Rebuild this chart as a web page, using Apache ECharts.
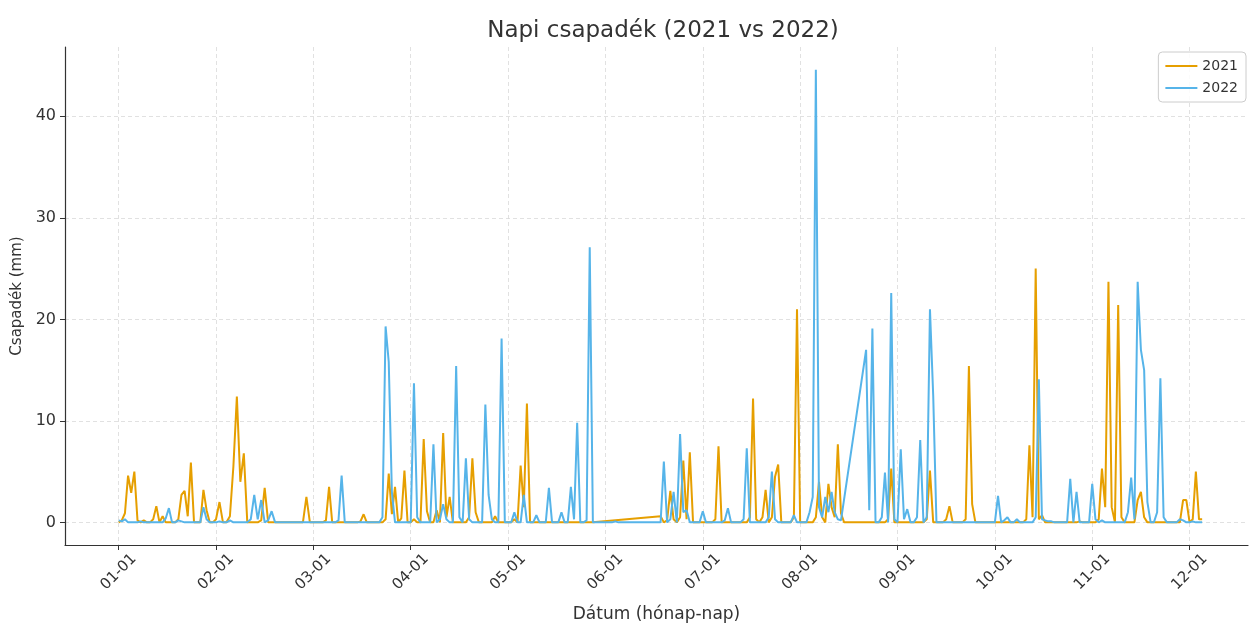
<!DOCTYPE html>
<html>
<head>
<meta charset="utf-8">
<title>Napi csapadék (2021 vs 2022)</title>
<script src="https://cdn.jsdelivr.net/npm/echarts@6/dist/echarts.min.js"></script>
<style>
  html, body { margin: 0; padding: 0; background: #fff; }
  #chart { width: 1250px; height: 626px; }
</style>
</head>
<body>
<div id="chart"></div>
<script>
// hónapok hossza (nem szökőév)
var monthDays = [31, 28, 31, 30, 31, 30, 31, 31, 30, 31, 30, 31];
var tickLabels = ['01-01', '02-01', '03-01', '04-01', '05-01', '06-01',
                  '07-01', '08-01', '09-01', '10-01', '11-01', '12-01'];
var monthTicks = [0, 1, 2, 3, 4, 5, 6, 7, 8, 9, 10, 11];
var yTicks = [0, 10, 20, 30, 40];

// napi csapadék (mm), 01-01-től 12-05-ig, null = hiányzó nap
var rain2021 = [
  0, 0.2, 0.9, 4.6, 2.9, 5.0, 0.2, 0, 0.2, 0, 0, 0.3, 1.6, 0, 0.6, 0, 0, 0, 0, 0.3, 2.7, 3.1, 0.6, 5.9, 0, 0, 0, 3.2, 1.2, 0, 0,
  0.3, 2.0, 0, 0, 0.6, 5.5, 12.4, 4.0, 6.8, 0, 0, 0, 0, 0.2, 3.4, 0, 0, 0, 0, 0, 0, 0, 0, 0, 0, 0, 2.5, 0,
  0, 0, 0, 0, 0.2, 3.5, 0, 0, 0, 0, 0, 0, 0, 0, 0, 0.1, 0.8, 0, 0, 0, 0, 0, 0, 0.3, 4.8, 0.8, 3.5, 0, 0.4, 5.1, 0,
  0, 0.3, 0, 0, 8.2, 1.1, 0, 0, 1.2, 0, 8.8, 0.5, 2.5, 0, 0, 0, 0, 0, 0.5, 6.3, 1.0, 0, 0, 0, 0, 0, 0.6, 0, 0, 0,
  0, 0, 0.3, 0, 5.6, 1.5, 11.7, 0, 0, 0, 0, 0, 0, 0, 0, 0, 0, 0, 0, 0, 0, 0, 0, 0, 0, 0, 0, 0, null, null, null,
  null, null, null, null, null, null, null, null, null, null, null, null, null, null, null, null, null, 0.6, 0, 0.2, 3.1, 0.3, 0, 0.5, 6.1, 0.3, 6.9, 0, 0, 0,
  0, 0, 0, 0, 0.3, 7.5, 0, 0, 0, 0, 0, 0, 0, 0, 0, 0.5, 12.2, 0.3, 0, 0.5, 3.2, 0, 0.5, 4.5, 5.7, 0, 0, 0, 0, 0.5, 21.0,
  0, 0, 0, 0, 0, 0.5, 4.0, 0.5, 0, 3.8, 1.5, 0.5, 7.7, 0.9, 0, 0, 0, 0, 0, 0, 0, 0, 0, 0, 0, 0, 0, 0, 0.3, 5.3, 0,
  0, 0, 0, 0, 0, 0, 0, 0, 0, 0.3, 5.1, 0, 0, 0, 0, 0.3, 1.6, 0, 0, 0, 0, 0.3, 15.4, 1.8, 0, 0, 0, 0, 0, 0,
  0, 0, 0, 0, 0, 0, 0, 0, 0, 0, 0.3, 7.6, 0.5, 25.0, 0.3, 0.7, 0, 0, 0, 0, 0, 0, 0, 0, 0, 0, 0, 0.1, 0, 0, 0,
  0, 0, 0.3, 5.3, 1.5, 23.7, 1.5, 0, 21.4, 0.5, 0, 0, 0, 0, 2.2, 3.0, 0.5, 0, 0, 0, 0, 0, 0, 0, 0, 0, 0, 0, 2.2, 2.2,
  0, 0.3, 5.0, 0.3, 0.3
];

var rain2022 = [
  0.2, 0.1, 0.3, 0, 0, 0, 0, 0.1, 0, 0, 0, 0, 0, 0, 0, 0.4, 1.4, 0, 0, 0.2, 0.1, 0, 0, 0, 0, 0, 0, 1.5, 0.3, 0, 0,
  0, 0.1, 0, 0, 0.2, 0, 0, 0, 0, 0, 0.3, 2.7, 0.3, 2.2, 0, 0.2, 1.1, 0, 0, 0, 0, 0, 0, 0, 0, 0, 0, 0,
  0, 0, 0, 0, 0, 0, 0, 0, 0.2, 4.6, 0, 0, 0, 0, 0, 0, 0, 0, 0, 0, 0, 0, 0.5, 19.3, 15.8, 3.0, 0, 0, 0, 0, 0,
  0, 13.7, 0.5, 0, 0, 0, 0, 7.7, 0, 0.3, 1.8, 0.3, 0, 0, 15.4, 0.5, 0, 6.3, 0.3, 0, 0, 0, 0, 11.6, 2.7, 0.3, 0, 0, 18.1, 0,
  0, 0, 1.0, 0, 0, 2.7, 0, 0, 0, 0.7, 0, 0, 0, 3.4, 0, 0, 0, 1.0, 0, 0, 3.5, 0.3, 9.8, 0, 0, 0.2, 27.1, 0, 0, 0, 0,
  0, 0, 0, 0.1, 0, 0, 0, 0, 0, 0, 0, 0, 0, 0, 0, 0, 0, 0, 6.0, 0, 0.3, 3.0, 0, 8.7, 1.0, 1.2, 0, 0, 0, 0,
  1.1, 0, 0, 0, 0, 0, 0, 0.2, 1.4, 0, 0, 0, 0, 0.3, 7.3, 0, 0, 0, 0, 0, 0, 0.5, 5.0, 0.3, 0, 0, 0, 0, 0, 0.7, 0,
  0, 0, 0, 1.0, 2.5, 44.6, 1.5, 0.5, 2.5, 1.0, 3.0, 1.0, 0.3, 0.2, null, null, null, null, null, null, null, 17.0, 1.2, 19.1, 0, 0, 0.5, 4.9, 0, 22.6, 0.3,
  0, 7.2, 0.3, 1.3, 0, 0, 0.5, 8.1, 0, 0.5, 21.0, 12.5, 0, 0, 0, 0, 0, 0, 0, 0, 0, 0, 0, 0, 0, 0, 0, 0, 0, 0,
  0, 2.6, 0, 0.2, 0.5, 0, 0, 0.3, 0, 0, 0, 0, 0, 0.5, 14.1, 0.3, 0.2, 0.1, 0.1, 0, 0, 0, 0, 0, 4.3, 0, 3.0, 0, 0, 0, 0,
  3.8, 0.3, 0, 0.2, 0, 0, 0, 0, 0, 0, 0, 1.0, 4.4, 0.3, 23.7, 17.0, 15.0, 2.0, 0, 0, 1.0, 14.2, 0.5, 0, 0, 0, 0, 0.3, 0.2, 0,
  0, 0.1, 0, 0, 0
];

var color2021 = '#E69F00';
var color2022 = '#56B4E9';

// naptári napok; a tengelyen minden hónap egyforma széles (hónap + a hónapon belüli rész)
function pad(n) { return (n < 10 ? '0' : '') + n; }
var days = [];
for (var m = 0; m < 12; m++) {
  for (var d = 1; d <= monthDays[m]; d++) {
    days.push({ label: pad(m + 1) + '-' + pad(d), x: m + (d - 1) / monthDays[m] });
  }
}

// a hiányzó napokat kihagyjuk, így a vonal egyenesen köti össze a szomszédokat
function toPoints(values) {
  var pts = [];
  values.forEach(function (v, i) {
    if (v !== null) pts.push([days[i].x, v, days[i].label]);
  });
  return pts;
}

var font = 'DejaVu Sans, Liberation Sans, sans-serif';
var gridLine = { show: true, lineStyle: { color: '#d9d9d9', width: 0.8, type: [4, 3] } };

var myChart = echarts.init(document.getElementById('chart'));

var option = {
  animation: false,
  backgroundColor: '#fff',
  textStyle: { fontFamily: font },
  title: {
    text: 'Napi csapadék (2021 vs 2022)',
    left: 658,
    top: 15,
    textAlign: 'center',
    textStyle: { fontFamily: font, fontSize: 23, fontWeight: 'normal', color: '#333' }
  },
  tooltip: {
    trigger: 'axis',
    formatter: function (params) {
      var s = params[0].value[2];
      params.forEach(function (p) { s += '<br>' + p.marker + p.seriesName + ': ' + p.value[1] + ' mm'; });
      return s;
    }
  },
  legend: {
    data: ['2021', '2022'],
    orient: 'vertical',
    right: 4,
    top: 52,
    icon: 'rect',
    itemWidth: 32,
    itemHeight: 2,
    itemGap: 8,
    padding: [7, 8, 7, 7],
    borderColor: '#cccccc',
    borderWidth: 1,
    borderRadius: 4,
    backgroundColor: 'rgba(255,255,255,0.85)',
    textStyle: { fontFamily: font, fontSize: 14, color: '#333' }
  },
  grid: { left: 65, right: 2, top: 47, bottom: 81, outerBoundsMode: 'none' },
  xAxis: {
    type: 'value',
    min: -0.551,
    max: 11.6,
    name: 'Dátum (hónap-nap)',
    nameLocation: 'middle',
    nameGap: 61,
    nameTextStyle: { fontFamily: font, fontSize: 17, color: '#333' },
    axisLine: { show: true, onZero: false, lineStyle: { color: '#333', width: 1.2 } },
    axisTick: { show: true, customValues: monthTicks, length: 5, lineStyle: { color: '#333' } },
    axisLabel: {
      customValues: monthTicks,
      formatter: function (v) { return tickLabels[Math.round(v)]; },
      rotate: 45,
      align: 'center',
      verticalAlign: 'middle',
      margin: 27,
      fontSize: 15,
      color: '#333'
    },
    splitLine: gridLine
  },
  yAxis: {
    type: 'value',
    min: -2.23,
    max: 46.83,
    name: 'Csapadék (mm)',
    nameLocation: 'middle',
    nameGap: 35,
    nameTextStyle: { fontFamily: font, fontSize: 15, color: '#333' },
    axisLine: { show: true, onZero: false, lineStyle: { color: '#333', width: 1.2 } },
    axisTick: { show: true, customValues: yTicks, length: 5, lineStyle: { color: '#333' } },
    axisLabel: { customValues: yTicks, margin: 9, fontSize: 16, color: '#333' },
    splitLine: gridLine
  },
  series: [
    {
      name: '2021',
      type: 'line',
      data: toPoints(rain2021),
      symbol: 'none',
      color: color2021,
      lineStyle: { width: 2, color: color2021 }
    },
    {
      name: '2022',
      type: 'line',
      data: toPoints(rain2022),
      symbol: 'none',
      color: color2022,
      lineStyle: { width: 2, color: color2022 }
    }
  ]
};

myChart.setOption(option);
</script>
</body>
</html>
